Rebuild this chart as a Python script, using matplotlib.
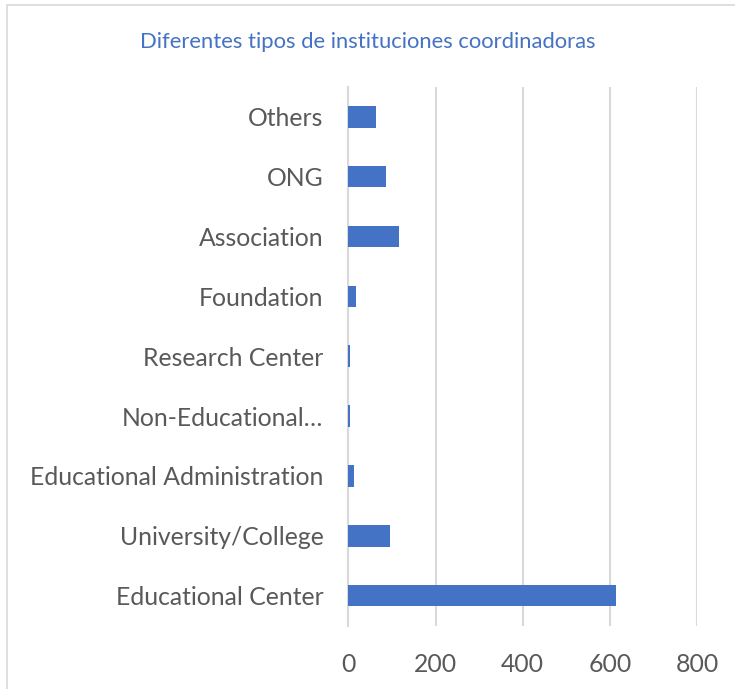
import matplotlib.pyplot as plt
from matplotlib.patches import Rectangle

# Coordinating institution types (bottom to top)
categories = ["Educational Center", "University/College", "Educational Administration",
              "Non-Educational…", "Research Center", "Foundation",
              "Association", "ONG", "Others"]
counts = [615, 96, 14, 4, 4, 18, 115, 86, 64]

plt.rcParams['font.family'] = ['Lato', 'DejaVu Sans']

fig = plt.figure(figsize=(7.35, 6.89), dpi=100)
ax = fig.add_axes([0.474, 0.092, 0.4744, 0.782])

ax.barh(range(len(categories)), counts, height=0.36, color="#4472C4", zorder=3)

ax.set_xlim(0, 800)
ax.set_ylim(-0.5, len(categories) - 0.5)
ax.set_xticks([0, 200, 400, 600, 800])
ax.set_yticks(range(len(categories)))
ax.set_yticklabels(categories)
ax.grid(True, axis="x", color="#D9D9D9", linewidth=1.5, zorder=0)

for s in ["top", "right", "bottom"]:
    ax.spines[s].set_visible(False)
ax.spines["left"].set_color("#D9D9D9")
ax.spines["left"].set_linewidth(1.5)

ax.tick_params(axis="both", length=0, labelsize=17.8, labelcolor="#595959")
ax.tick_params(axis="y", pad=18)
ax.tick_params(axis="x", pad=20)

fig.text(0.5, 0.939, "Diferentes tipos de instituciones coordinadoras",
         ha="center", va="center", fontsize=15.8, color="#4472C4")

# light frame around the chart area
fig.patches.append(Rectangle((7 / 735, -0.1), 1.1, 1 - 5 / 689 + 0.1,
                             transform=fig.transFigure, fill=False,
                             edgecolor="#D9D9D9", linewidth=1.2))

fig.savefig("out.png", dpi=100)
